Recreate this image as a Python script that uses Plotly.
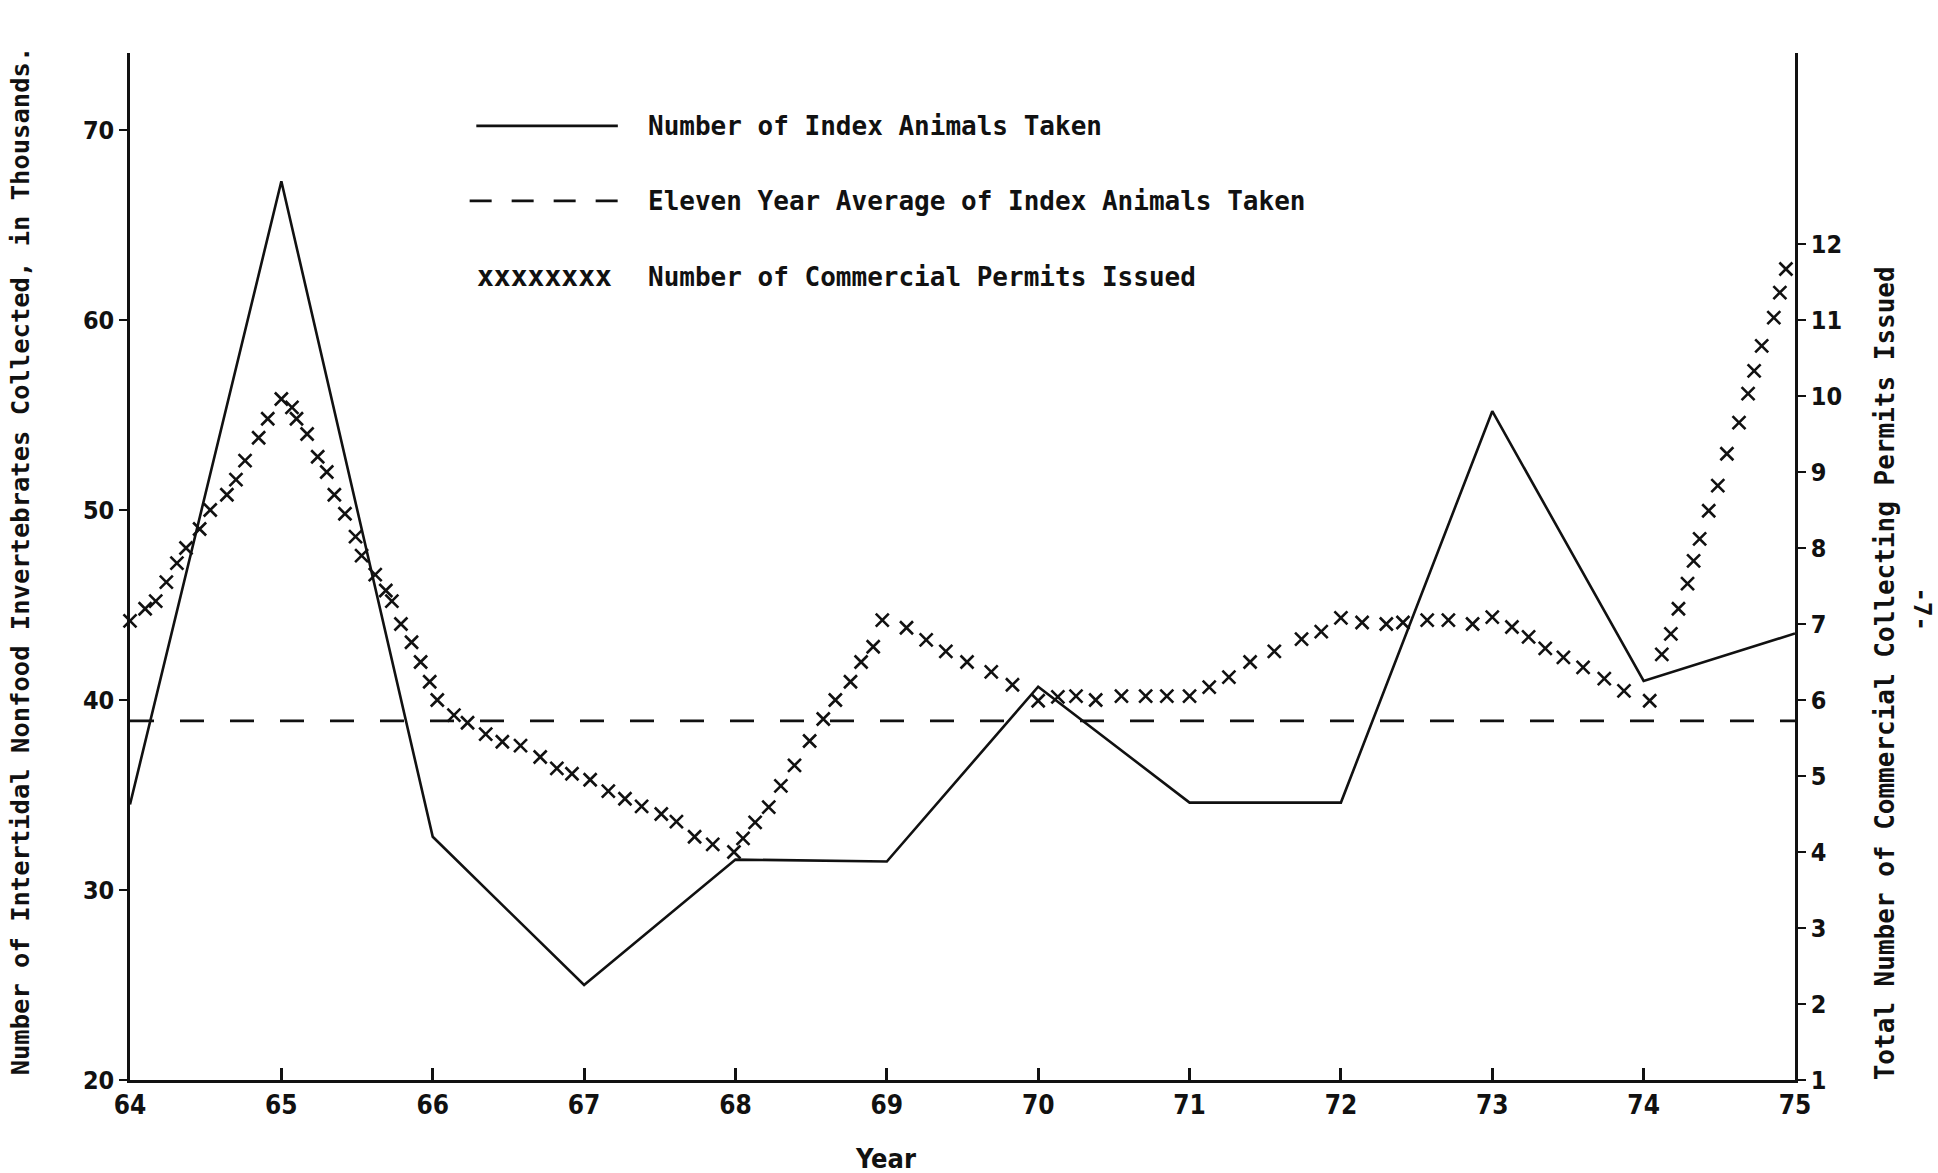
import plotly.graph_objects as go

# ---- data ----
years = [64, 65, 66, 67, 68, 69, 70, 71, 72, 73, 74, 75]
index_animals = [34.5, 67.3, 32.8, 25.0, 31.6, 31.5, 40.7, 34.6, 34.6, 55.2, 41.0, 43.5]

avg_years = [64, 75]
avg_value = [38.9, 38.9]

permit_years = [
    64.00, 64.10, 64.17, 64.24, 64.31, 64.37, 64.46, 64.53, 64.64, 64.70, 64.76, 64.85, 64.91,
    65.00, 65.07, 65.10, 65.17, 65.24, 65.30, 65.35, 65.42, 65.49, 65.53, 65.62, 65.69, 65.73,
    65.79, 65.86, 65.92, 65.98, 66.03, 66.14, 66.23, 66.35, 66.46, 66.58, 66.71, 66.82, 66.92,
    67.04, 67.16, 67.27, 67.38, 67.51, 67.61, 67.73, 67.85, 67.99, 68.05, 68.13, 68.22, 68.30,
    68.39, 68.49, 68.58, 68.66, 68.76, 68.83, 68.91, 68.97, 69.13, 69.26, 69.39, 69.53, 69.69,
    69.83, 70.00, 70.13, 70.25, 70.38, 70.55, 70.71, 70.85, 71.00, 71.13, 71.26, 71.40, 71.56,
    71.74, 71.87, 72.00, 72.14, 72.30, 72.41, 72.57, 72.71, 72.87, 73.00, 73.13, 73.24, 73.35,
    73.47, 73.60, 73.74, 73.87, 74.04, 74.12, 74.18, 74.23, 74.29, 74.33, 74.37, 74.43, 74.49,
    74.55, 74.63, 74.69, 74.73, 74.78, 74.86, 74.90, 74.94,
]
permit_counts = [
    7.04, 7.20, 7.30, 7.55, 7.80, 8.00, 8.25, 8.50, 8.70, 8.90, 9.15, 9.45, 9.70,
    9.96, 9.85, 9.70, 9.50, 9.20, 9.00, 8.70, 8.45, 8.15, 7.90, 7.65, 7.44, 7.30,
    7.00, 6.76, 6.50, 6.24, 6.00, 5.80, 5.70, 5.55, 5.45, 5.40, 5.25, 5.10, 5.03,
    4.95, 4.80, 4.70, 4.60, 4.50, 4.40, 4.20, 4.10, 4.00, 4.18, 4.39, 4.59, 4.87,
    5.14, 5.46, 5.75, 6.00, 6.24, 6.50, 6.70, 7.05, 6.95, 6.79, 6.64, 6.50, 6.37,
    6.20, 5.99, 6.04, 6.05, 6.00, 6.05, 6.05, 6.05, 6.05, 6.17, 6.30, 6.50, 6.64,
    6.80, 6.90, 7.08, 7.02, 7.00, 7.02, 7.05, 7.05, 7.00, 7.09, 6.96, 6.83, 6.68,
    6.56, 6.43, 6.28, 6.12, 5.99, 6.60, 6.87, 7.20, 7.53, 7.83, 8.12, 8.49, 8.82,
    9.24, 9.65, 10.03, 10.33, 10.66, 11.03, 11.36, 11.67,
]

x_tick_vals = years
x_tick_text = ["64", "65", "66", "67", "68", "69", "70", "71", "72", "73", "74", "75"]
left_ticks = [20, 30, 40, 50, 60, 70]
right_ticks = [1, 2, 3, 4, 5, 6, 7, 8, 9, 10, 11, 12]

legend_labels = [
    "Number of Index Animals Taken",
    "Eleven Year Average of Index Animals Taken",
    "Number of Commercial Permits Issued",
]
left_title = "Number of Intertidal Nonfood Invertebrates Collected, in Thousands."
right_title = "Total Number of Commercial Collecting Permits Issued"
x_title = "Year"

# ---- styling ----
NARROW = "Liberation Sans Narrow, DejaVu Sans Condensed, Roboto Condensed, Arial Narrow, sans-serif"
MONO = "DejaVu Sans Mono, Liberation Mono, monospace"
BLACK = "#111111"

left_range = [20, 74.05]
right_range = [(v - 20) / 4 + 1 for v in left_range]

fig = go.Figure()
fig.add_trace(go.Scatter(x=years, y=index_animals, mode="lines",
                         line=dict(color=BLACK, width=2.6), cliponaxis=False,
                         name=legend_labels[0], yaxis="y"))
fig.add_trace(go.Scatter(x=avg_years, y=avg_value, mode="lines",
                         line=dict(color=BLACK, width=2.6, dash="24px,26px"), cliponaxis=False,
                         name=legend_labels[1], yaxis="y"))
fig.add_trace(go.Scatter(x=permit_years, y=permit_counts, mode="markers",
                         marker=dict(symbol="x-thin", size=13, line=dict(color=BLACK, width=2.6)),
                         cliponaxis=False, name=legend_labels[2], yaxis="y2"))

fig.update_layout(
    width=1938, height=1173,
    margin=dict(l=130, r=143, t=53, b=93),
    paper_bgcolor="white", plot_bgcolor="white",
    showlegend=False,
    font=dict(family=NARROW, color=BLACK, size=24, weight="bold"),
    xaxis=dict(range=[64, 75], tickvals=x_tick_vals, ticktext=x_tick_text,
               showline=True, linecolor=BLACK, linewidth=3,
               ticks="inside", ticklen=12, tickwidth=2.5, tickcolor=BLACK,
               showgrid=False, zeroline=False,
               tickfont=dict(family=NARROW, size=26, weight="bold")),
    yaxis=dict(range=left_range, tickvals=left_ticks,
               showline=True, linecolor=BLACK, linewidth=2.5,
               ticks="outside", ticklen=8, tickwidth=2, tickcolor=BLACK,
               showgrid=False, zeroline=False,
               tickfont=dict(family=NARROW, size=25, weight="bold")),
    yaxis2=dict(range=right_range, tickvals=right_ticks, overlaying="y", side="right",
                showline=True, linecolor=BLACK, linewidth=2.5,
                ticks="outside", ticklen=8, tickwidth=2, tickcolor=BLACK,
                showgrid=False, zeroline=False,
                tickfont=dict(family=NARROW, size=25, weight="bold")),
)

ann = []
ann.append(dict(text=left_title, xref="paper", yref="paper", x=0, y=0.505,
                xanchor="center", yanchor="middle", xshift=-110, textangle=-90, showarrow=False,
                font=dict(family=MONO, size=25.5, weight="bold", color=BLACK)))
ann.append(dict(text=right_title, xref="paper", yref="paper", x=1, y=0.396,
                xanchor="center", yanchor="middle", xshift=90, textangle=-90, showarrow=False,
                font=dict(family=MONO, size=26, weight="bold", color=BLACK)))
ann.append(dict(text="-7-", xref="paper", yref="paper", x=1, y=0.459,
                xanchor="center", yanchor="middle", xshift=127, textangle=90, showarrow=False,
                font=dict(family=MONO, size=24, weight="bold", color=BLACK)))
ann.append(dict(text=x_title, xref="paper", yref="paper", x=0.454, y=0,
                xanchor="center", yanchor="middle", yshift=-78, showarrow=False,
                font=dict(family=NARROW, size=27, weight="bold", color=BLACK)))
leg_y = [0.929, 0.856, 0.782]
for lbl, yy in zip(legend_labels, leg_y):
    ann.append(dict(text=lbl, xref="paper", yref="paper", x=0.31, y=yy,
                    xanchor="left", yanchor="middle", showarrow=False,
                    font=dict(family=MONO, size=26, weight="bold", color=BLACK)))
ann.append(dict(text="xxxxxxxx", xref="paper", yref="paper", x=0.249, y=leg_y[2],
                xanchor="center", yanchor="middle", showarrow=False,
                font=dict(family=MONO, size=28, color=BLACK)))
fig.update_layout(annotations=ann)

fig.add_shape(type="line", xref="paper", yref="paper", x0=0.208, x1=0.293,
              y0=leg_y[0], y1=leg_y[0], line=dict(color=BLACK, width=2.6))
fig.add_shape(type="line", xref="paper", yref="paper", x0=0.204, x1=0.293,
              y0=leg_y[1], y1=leg_y[1], line=dict(color=BLACK, width=2.6, dash="22px,20px"))

fig.write_html("out.html", config={"displayModeBar": False},
               post_script="document.body.style.margin='0';document.body.style.overflow='hidden';")
